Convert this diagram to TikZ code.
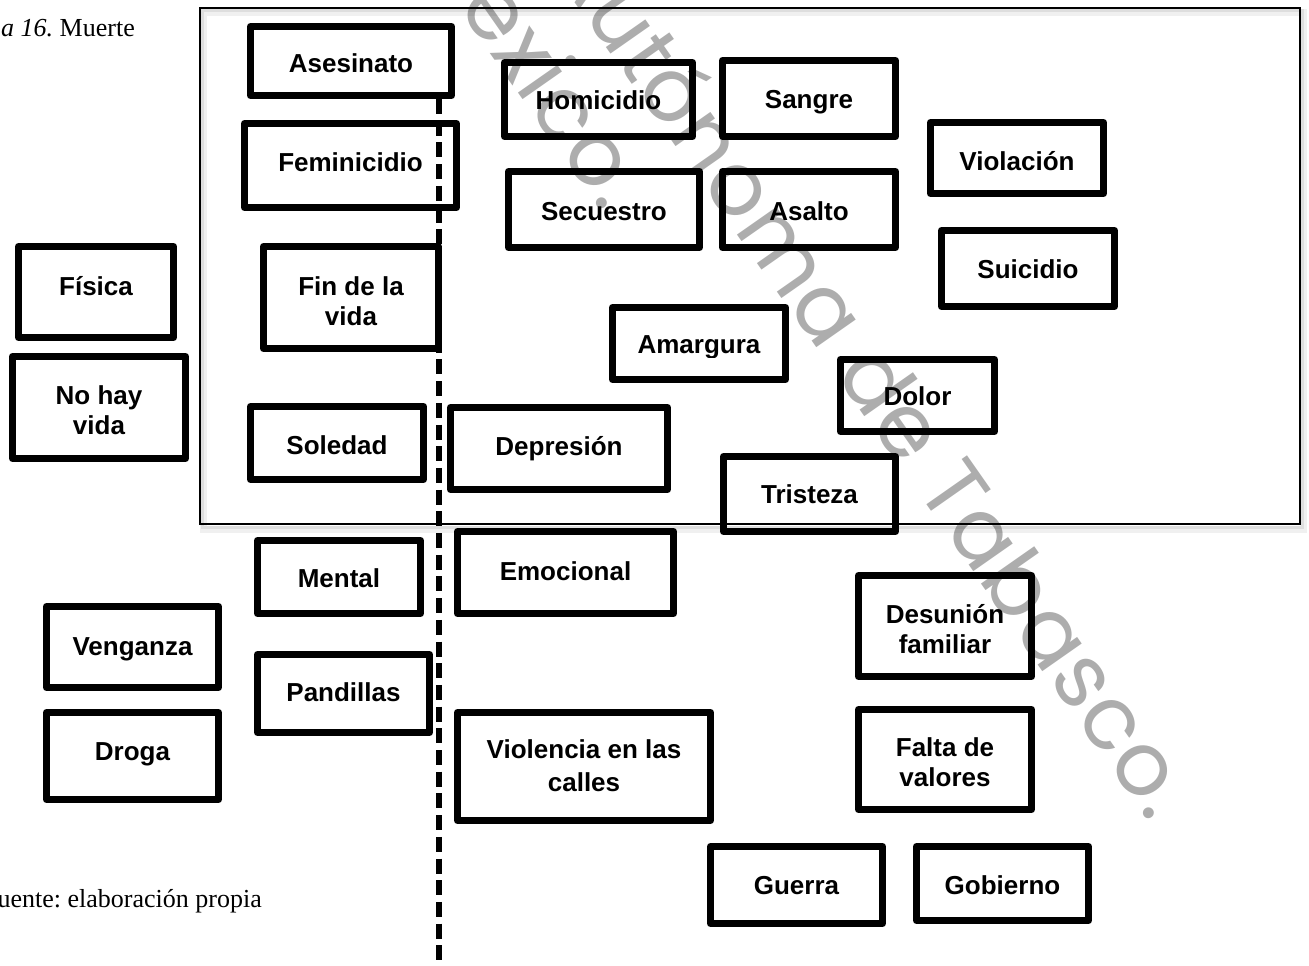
\documentclass[tikz,border=0pt]{standalone}
\usepackage{fontspec}
\setmainfont{Liberation Serif}
\newfontfamily\cardfamily{Liberation Sans}
\newfontfamily\markfamily[LetterSpace=1.5]{Poppins}
\frenchspacing
% text of a card: #1 = drop of the first baseline below the card centre
\newcommand\cardtxt[2]{\raisebox{-#1pt}[0pt][0pt]{\begin{tabular}[t]{@{}c@{}}#2\end{tabular}}}
\tikzset{
  card/.style={draw, line width=7pt, line join=round, inner sep=0pt,
    font=\cardfamily\bfseries\fontsize{26}{30}\selectfont},
  sz/.style 2 args={minimum width=#1pt, minimum height=#2pt},
  divider/.style={line width=6pt, dash pattern=on 15pt off 6.7pt},
  frameline/.style={line width=2pt},
  caption/.style={font=\fontsize{26}{30}\selectfont, inner sep=0pt},
  stamp/.style={font=\markfamily\fontsize{88}{88}\selectfont, text=black,
    text opacity=0.32, inner sep=0pt, rotate=-55}
}
\begin{document}
\begin{tikzpicture}[x=1pt, y=-1pt]
\useasboundingbox (0,0) rectangle (1309,966);
\fill[white] (0,0) rectangle (1309,966);

% framed group with its soft shadow
\draw[black!6, line width=7pt] (203,13) rectangle (1303,529);
\draw[black!13, line width=3pt] (202,11) rectangle (1302,527);
\draw[frameline] (200,8) rectangle (1300,524);

% dividing line
\coordinate (divtop) at (439,99);
\coordinate (divbot) at (439,966);
\draw[divider] (divtop) -- (divbot);

% cards
\node[card, sz={201}{69}] (asesinato) at (351,61) {\cardtxt{11.9}{Asesinato}};
\node[card, sz={212}{84}] (feminicidio) at (350.5,165.5) {\cardtxt{6.4}{Feminicidio}};
\node[card, sz={188}{74}] (homicidio) at (598.5,99.5) {\cardtxt{9.6}{Homicidio}};
\node[card, sz={173}{76}] (sangre) at (809,98.5) {\cardtxt{10.4}{Sangre}};
\node[card, sz={191}{76}] (secuestro) at (604,209.5) {\cardtxt{11.4}{Secuestro}};
\node[card, sz={173}{76}] (asalto) at (809,209.5) {\cardtxt{11.4}{Asalto}};
\node[card, sz={173}{71}] (violacion) at (1017,158) {\cardtxt{12.9}{Violación}};
\node[card, sz={173}{76}] (suicidio) at (1028,268.5) {\cardtxt{10.4}{Suicidio}};
\node[card, sz={155}{91}] (fisica) at (96,292) {\cardtxt{3.6}{Física}};
\node[card, sz={173}{102}] (nohayvida) at (99,407.5) {\cardtxt{-2.6}{No hay\\vida}};
\node[card, sz={175}{102}] (findelavida) at (351,297.5) {\cardtxt{-1.9}{Fin de la\\vida}};
\node[card, sz={173}{73}] (soledad) at (337,443) {\cardtxt{11.2}{Soledad}};
\node[card, sz={173}{72}] (amargura) at (699,343.5) {\cardtxt{10.4}{Amargura}};
\node[card, sz={154}{72}] (dolor) at (917.5,395.5) {\cardtxt{9.6}{Dolor}};
\node[card, sz={172}{75}] (tristeza) at (809.5,494) {\cardtxt{9.9}{Tristeza}};
\node[card, sz={217}{82}] (depresion) at (559,448.5) {\cardtxt{7.4}{Depresión}};
\node[card, sz={163}{73}] (mental) at (339,577) {\cardtxt{10.9}{Mental}};
\node[card, sz={216}{82}] (emocional) at (565.5,572.5) {\cardtxt{7.8}{Emocional}};
\node[card, sz={172}{81}] (venganza) at (132.5,647) {\cardtxt{8.6}{Venganza}};
\node[card, sz={172}{87}] (droga) at (132.5,756) {\cardtxt{4.6}{Droga}};
\node[card, sz={172}{78}] (pandillas) at (343.5,693.5) {\cardtxt{8.4}{Pandillas}};
\node[card, sz={253}{108}] (violencia) at (584,766.5) {\cardtxt{-7.8}{Violencia en las\\[2.5pt]calles}};
\node[card, sz={172}{77}] (guerra) at (796.5,885) {\cardtxt{9.9}{Guerra}};
\node[card, sz={173}{101}] (desunion) at (945,626) {\cardtxt{-2.1}{Desunión\\familiar}};
\node[card, sz={173}{100}] (falta) at (945,759.5) {\cardtxt{-2.6}{Falta de\\valores}};
\node[card, sz={172}{74}] (gobierno) at (1002.5,883.5) {\cardtxt{11.2}{Gobierno}};

% the descender of "Amargura" is cut flat just under its baseline
\fill[white] (703,357.5) rectangle (745,368);

% captions
\node[caption, anchor=base east] (figtitle) at (135,36.7) {\textit{a 16.} Muerte};
\node[caption, anchor=base east] (source) at (262,907) {uente: elaboración propia};

% stamp across the page
\node[stamp, anchor=base east] (stampA) at (1150,824) {Universidad Juárez Autónoma de Tabasco.};
\node[stamp, anchor=base east] (stampB) at (603,214) {México.};
\end{tikzpicture}
\end{document}
